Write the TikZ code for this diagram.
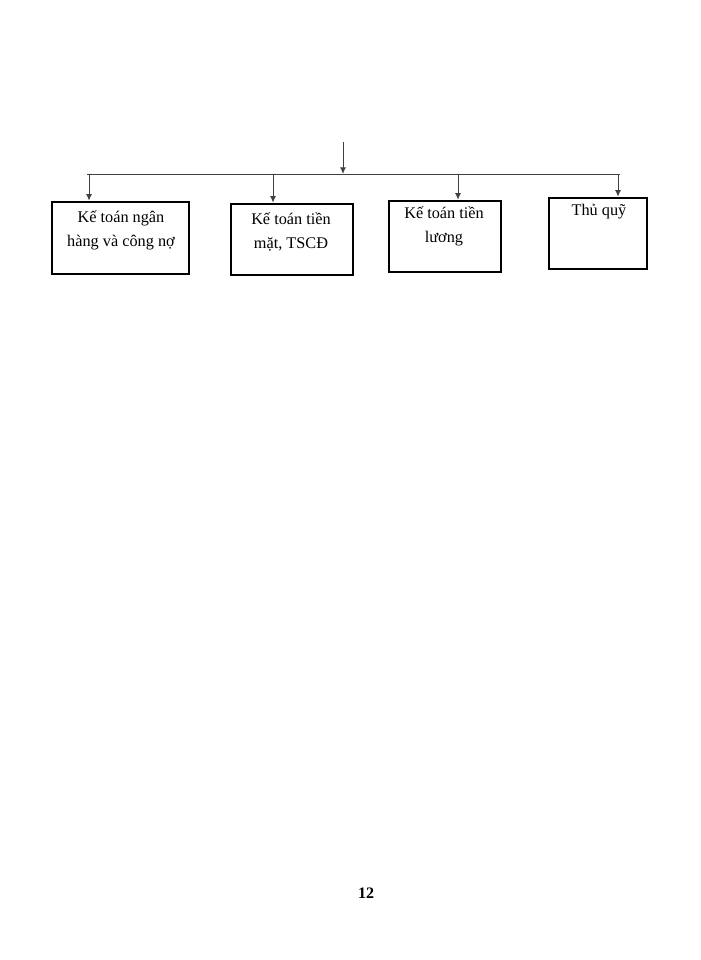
\documentclass[tikz,border=0pt]{standalone}
\usepackage{fontspec}
\setmainfont{Liberation Serif}
\usetikzlibrary{arrows.meta}

\begin{document}
\begin{tikzpicture}[x=0.75pt, y=-0.75pt,
  box/.style={draw, line width=1.9pt, minimum height=53.25pt, inner sep=0pt},
  txt/.style={align=center, font=\fontsize{12.2}{18}\selectfont, inner sep=0pt},
  link/.style={draw=black!75, line width=0.75pt},
  arr/.style={link, -{Latex[length=5pt, width=4.5pt]}}]
  \useasboundingbox (0,0) rectangle (700,960);
  % boxes
  \node[box, minimum width=102.75pt, minimum height=54pt] (nh) at (120.5, 238) {};
  \node[box, minimum width=91.5pt] (tm) at (292, 239.5) {};
  \node[box, minimum width=84pt] (tl) at (445, 236.5) {};
  \node[box, minimum width=73.5pt] (tq) at (598, 233.5) {};
  % texts
  \node[txt] (nh-t) at (121, 230) {Kế toán ngân\\hàng và công nợ};
  \node[txt] (tm-t) at (291, 231.5) {Kế toán tiền\\mặt, TSCĐ};
  \node[txt] (tl-t) at (444, 226.5) {Kế toán tiền\\lương};
  \node[txt] (tq-t) at (599, 212) {Thủ quỹ};
  % bus
  \coordinate (top) at (343, 142);
  \coordinate (mid) at (343, 174);
  \coordinate (left) at (87, 174);
  \coordinate (right) at (620, 174);
  \coordinate (c1) at (89, 174);
  \coordinate (c2) at (273, 174);
  \coordinate (c3) at (458, 174);
  \coordinate (c4) at (618, 174);
  \draw[arr] (top) -- (mid);
  \draw[link] (left) -- (right);
  \draw[arr] (c1) -- (c1 |- nh.north);
  \draw[arr] (c2) -- (c2 |- tm.north);
  \draw[arr] (c3) -- (c3 |- tl.north);
  \draw[arr] (c4) -- (c4 |- tq.north);
  % page number
  \node[font=\bfseries\fontsize{12}{14}\selectfont] (page) at (366, 893) {12};
\end{tikzpicture}
\end{document}
